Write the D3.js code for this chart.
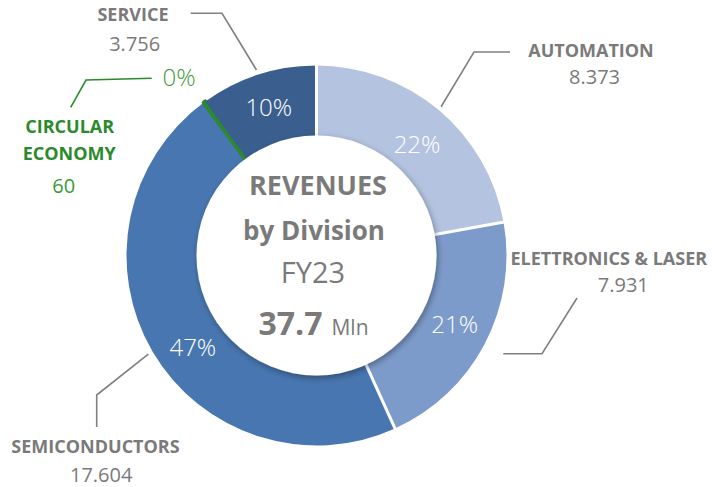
<!DOCTYPE html>
<html>
<head>
<meta charset="utf-8">
<script src="https://cdn.jsdelivr.net/npm/d3@7"></script>
<style>
  html, body { margin: 0; padding: 0; background: #ffffff; }
  svg { display: block; font-family: "Open Sans", "Noto Sans", sans-serif; }
</style>
</head>
<body>
<svg id="chart" width="712" height="487"></svg>
<script>
// Revenues by division, FY23 (thousand euro)
const divisions = ["AUTOMATION", "ELETTRONICS & LASER", "SEMICONDUCTORS", "CIRCULAR ECONOMY", "SERVICE"];
const revenues  = [8373, 7931, 17604, 60, 3756];
const colors    = ["#b4c4e0", "#7d9bca", "#4876b0", "#2b8a2b", "#3a5f8f"];
const titleLines = ["REVENUES", "by Division", "FY23"];
const totalUnit = "Mln";

const W = 712, H = 487;
const cx = 316.5, cy = 255.5;
const R = 190, R0 = 120;
const grey = "#7a7a7a";
const green = "#2b8a2b";

// Italian number formatting: "." as thousands separator
const it = d3.formatLocale({ decimal: ",", thousands: ".", grouping: [3], currency: ["€", ""] });
const fmtValue = it.format(",d");
const fmtPct = d3.format(".0%");
const fmtTotal = d3.format(".1f");

const total = d3.sum(revenues);
const data = divisions.map((name, i) => ({ name, value: revenues[i], color: colors[i] }));

const pie = d3.pie().sort(null).value(d => d.value).startAngle(0).endAngle(2 * Math.PI);
const arcs = pie(data);
const arc = d3.arc().innerRadius(R0 - 2).outerRadius(R);

const svg = d3.select("#chart");
const defs = svg.append("defs");
const sh = defs.append("filter").attr("id", "holeShadow")
  .attr("x", "-20%").attr("y", "-20%").attr("width", "140%").attr("height", "140%");
sh.append("feDropShadow").attr("dx", 1.5).attr("dy", 2.5).attr("stdDeviation", 3)
  .attr("flood-color", "#000").attr("flood-opacity", 0.35);

const g = svg.append("g").attr("transform", `translate(${cx},${cy})`);

// slices
g.selectAll("path.slice").data(arcs).join("path")
  .attr("class", "slice")
  .attr("d", arc)
  .attr("fill", d => d.data.color)
  .attr("stroke", d => d.data.name === "CIRCULAR ECONOMY" ? d.data.color : "none")
  .attr("stroke-width", 4)
  .attr("stroke-linejoin", "round");

// white separators around the two lighter divisions
const pt = (a, r) => [r * Math.sin(a), -r * Math.cos(a)];
const sepAngles = [arcs[0].startAngle, arcs[1].startAngle, arcs[2].startAngle];
g.selectAll("line.sep").data(sepAngles).join("line")
  .attr("class", "sep")
  .attr("x1", a => pt(a, R0 - 4)[0]).attr("y1", a => pt(a, R0 - 4)[1])
  .attr("x2", a => pt(a, R + 2)[0]).attr("y2", a => pt(a, R + 2)[1])
  .attr("stroke", "#ffffff").attr("stroke-width", 3);

// hole with a soft drop shadow
g.append("circle").attr("r", R0).attr("fill", "#ffffff").attr("filter", "url(#holeShadow)");

// percent labels
const mid = d => (d.startAngle + d.endAngle) / 2;
const pctLayout = {
  "AUTOMATION": { dx: 1, dy: 8 },
  "ELETTRONICS & LASER": { dx: 1, dy: -3 },
  "SEMICONDUCTORS": { dx: 10, dy: 13 },
  "CIRCULAR ECONOMY": { x: 179, y: 77 },
  "SERVICE": { dx: 0, dy: -1 }
};
g.selectAll("text.pct").data(arcs).join("text")
  .attr("class", "pct")
  .attr("x", d => { const l = pctLayout[d.data.name]; return l.x !== undefined ? l.x - cx : pt(mid(d), 155)[0] + l.dx; })
  .attr("y", d => { const l = pctLayout[d.data.name]; return l.y !== undefined ? l.y - cy : pt(mid(d), 155)[1] + l.dy; })
  .attr("dy", "0.36em")
  .attr("text-anchor", "middle")
  .attr("font-size", 24)
  .attr("font-weight", 300)
  .attr("fill", d => d.data.name === "CIRCULAR ECONOMY" ? "#3a9a3a" : "#ffffff")
  .text(d => fmtPct(d.value / total));

// category labels with leader lines (absolute page coordinates)
const labelLayout = {
  "AUTOMATION": { r: R + 4, path: [[474, 52], [510, 52]], name: [[591, 57.3]], val: [594.5, 84] },
  "ELETTRONICS & LASER": { r: R + 21, path: [[542, null], [577, 298]], name: [[608.8, 265]], val: [623.3, 291.7] },
  "SEMICONDUCTORS": { r: R + 5, path: [[96.7, 395], [96.7, 427]], name: [[95.5, 453.3]], val: [101.2, 482] },
  "CIRCULAR ECONOMY": { fixed: [[151.7, 78.3], [86, 80], [70.7, 107.3]], name: [[69.7, 133.3], [69.2, 160]], nameLines: ["CIRCULAR", "ECONOMY"], val: [63.8, 192.5] },
  "SERVICE": { r: R + 5, path: [[222, 13.3], [190.7, 13.3]], name: [[133, 20.7]], val: [134.7, 50.7] }
};

const line = d3.line();
const lab = svg.append("g");
arcs.forEach(d => {
  const L = labelLayout[d.data.name];
  const isGreen = d.data.name === "CIRCULAR ECONOMY";
  let pts;
  if (L.fixed) {
    pts = L.fixed;
  } else {
    const p = pt(mid(d), L.r);
    pts = [[cx + p[0], cy + p[1]]];
    L.path.forEach(q => pts.push([q[0], q[1] === null ? pts[pts.length - 1][1] : q[1]]));
  }
  lab.append("path").attr("d", line(pts)).attr("fill", "none")
    .attr("stroke", isGreen ? green : "#808080").attr("stroke-width", 1.6);

  const lines = L.nameLines || [d.data.name];
  lines.forEach((t, i) => {
    lab.append("text").attr("x", L.name[i][0]).attr("y", L.name[i][1])
      .attr("text-anchor", "middle").attr("font-size", 18).attr("font-weight", 700)
      .attr("fill", isGreen ? green : grey).text(t);
  });
  lab.append("text").attr("x", L.val[0]).attr("y", L.val[1])
    .attr("text-anchor", "middle").attr("font-size", 20)
    .attr("fill", isGreen ? "#3a9a3a" : grey).text(fmtValue(d.value));
});

// centre title
const c = svg.append("g").attr("fill", grey).attr("text-anchor", "middle");
c.append("text").attr("x", 318).attr("y", 195).attr("font-size", 27).attr("font-weight", 700).text(titleLines[0]);
c.append("text").attr("x", 314).attr("y", 240).attr("font-size", 26).attr("font-weight", 700).text(titleLines[1]);
c.append("text").attr("x", 313).attr("y", 283.3).attr("font-size", 29).text(titleLines[2]);
const tot = c.append("text").attr("x", 313.5).attr("y", 335);
tot.append("tspan").attr("font-size", 32).attr("font-weight", 700).text(fmtTotal(total / 1000));
tot.append("tspan").attr("font-size", 21).attr("dx", 9).text(totalUnit);
</script>
</body>
</html>
